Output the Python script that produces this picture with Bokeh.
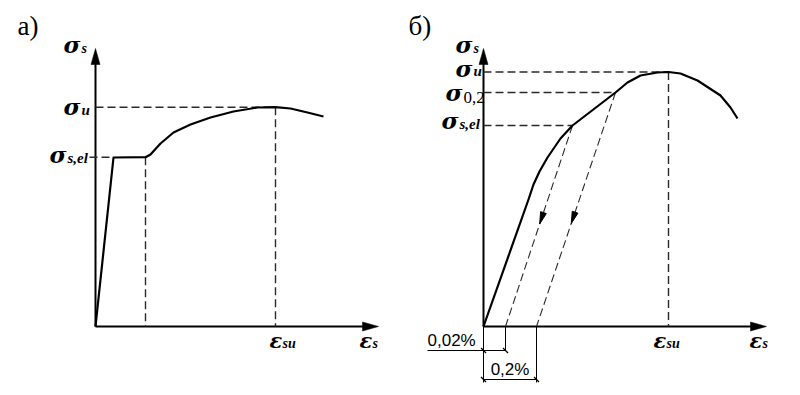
import numpy as np
from bokeh.plotting import figure
from bokeh.layouts import row
from bokeh.models import Range1d
from bokeh.core.properties import value
from bokeh.embed import file_html
from bokeh.resources import INLINE

# ---------------- data (schematic units) ----------------
# Panel а) : steel with a yield plateau
strain_a = [0, 18, 50, 55, 65, 78, 95, 115, 138, 162, 180, 195, 212, 228]
stress_a = [0, 169, 169.3, 172, 183, 194, 202, 209, 215, 219, 219.3, 218, 214, 210]
sigma_el_a = 169.3
sigma_u_a = 219.3
eps_plateau_a = 50
eps_su_a = 180

# Panel б) : steel without a yield plateau
strain_b = [0, 45, 50, 56, 64, 77, 89, 132, 144, 157, 174, 185, 197, 214, 237, 247, 254]
stress_b = [0, 127, 142, 155, 169, 188, 201, 234, 244, 251, 254, 254.5, 253, 246, 231, 219, 208]
eps_el_b = 89
sigma_el_b = 201
eps_02_b = 132
sigma_02_b = 234
eps_su_b = 185
sigma_u_b = 254.5
resid_002 = 22     # 0,02 %
resid_02 = 53      # 0,2 %

axis_len_x = 283
axis_len_y = 278

SERIF = "Liberation Serif"
GREEK = "DejaVu Serif"
SANS = "Liberation Sans"
DASH = "8 4"
DCOL = "#2a2a2a"


def make_fig(x0):
    p = figure(width=400, height=395, x_range=Range1d(-x0, 400 - x0),
               y_range=Range1d(-69, 326), output_backend="svg",
               toolbar_location=None, min_border=0,
               x_axis_type=None, y_axis_type=None)
    p.outline_line_color = None
    p.background_fill_color = "white"
    p.border_fill_color = "white"
    return p


def txt(p, x, y, s, size, style="bold italic", dx=0, dy=0, align="left", font=SERIF):
    # dy = desired baseline position below the anchor (screen px)
    p.text(x=[x], y=[y], text=[s], text_font=value(font), text_font_size=f"{size}px",
           text_font_style=style, x_offset=dx, y_offset=dy - 0.37 * size,
           text_align=align, text_baseline="alphabetic", text_color="black")


def sig(p, x, y, sub, dx, dy, sub_dy=None, sub_style="bold italic", sub_size=15,
        sym="σ", size=23, align="right"):
    txt(p, x, y, sym, size, dx=dx, dy=dy, align=align, font=GREEK)
    if sub_dy is None:
        sub_dy = dy
    sx = dx + 1 if align == "right" else dx + 13
    txt(p, x, y, sub, sub_size, sub_style, dx=sx, dy=sub_dy)


def axes(p):
    p.line([0, 0], [0, axis_len_y - 12], line_color="black", line_width=2)
    p.line([0, axis_len_x - 12], [0, 0], line_color="black", line_width=2)
    p.patch([-4.5, 0, 4.5], [axis_len_y - 16, axis_len_y, axis_len_y - 16],
            color="black", line_width=0.5)
    p.patch([axis_len_x - 16, axis_len_x, axis_len_x - 16], [-4.5, 0, 4.5],
            color="black", line_width=0.5)


def dashed(p, xs, ys, w=1.4):
    p.line(xs, ys, line_color=DCOL, line_width=w, line_dash=DASH)


def head(p, x1, y1, x2, y2, t):
    d = np.array([x2 - x1, y2 - y1], float)
    d /= np.hypot(*d)
    tip = np.array([x1 + t * (x2 - x1), y1 + t * (y2 - y1)])
    n = np.array([-d[1], d[0]])
    base = tip - d * 12
    pts = [tip, base + n * 3, base - n * 3]
    p.patch([q[0] for q in pts], [q[1] for q in pts], color="black")


# ---------------- panel а ----------------
pa = make_fig(95)
axes(pa)
dashed(pa, [0, eps_su_a], [sigma_u_a, sigma_u_a])
dashed(pa, [-6, strain_a[1]], [sigma_el_a, sigma_el_a])
dashed(pa, [eps_plateau_a, eps_plateau_a], [sigma_el_a, 0])
dashed(pa, [eps_su_a, eps_su_a], [sigma_u_a, 0])
pa.line(strain_a, stress_a, line_color="black", line_width=2.2, line_join="round")

txt(pa, 0, axis_len_y, "а)", 27, "normal", dx=-78, dy=-13)
sig(pa, 0, axis_len_y, "s", dx=-15, dy=5, sub_size=14)
sig(pa, 0, sigma_u_a, "u", dx=-15, dy=8)
sig(pa, 0, sigma_el_a, "s,el", dx=-29, dy=6)
sig(pa, eps_su_a, 0, "su", dx=-6, dy=22, sym="ε", size=21, align="left", sub_size=14)
sig(pa, axis_len_x, 0, "s", dx=-19, dy=22, sym="ε", size=21, align="left", sub_size=14)

# ---------------- panel б ----------------
pb = make_fig(83)
axes(pb)
dashed(pb, [0, eps_su_b], [sigma_u_b, sigma_u_b])
dashed(pb, [0, eps_02_b], [sigma_02_b, sigma_02_b])
dashed(pb, [0, eps_el_b], [sigma_el_b, sigma_el_b])
dashed(pb, [eps_su_b, eps_su_b], [sigma_u_b, 0])
dashed(pb, [eps_el_b, resid_002], [sigma_el_b, 0], w=1.1)
dashed(pb, [eps_02_b, resid_02], [sigma_02_b, 0], w=1.1)
head(pb, eps_el_b, sigma_el_b, resid_002, 0, 0.49)
head(pb, eps_02_b, sigma_02_b, resid_02, 0, 0.56)
pb.line(strain_b, stress_b, line_color="black", line_width=2.2, line_join="round")

# dimension lines
dim_y1, dim_y2 = -24, -53
pb.line([0, 0], [0, -56], line_color="black", line_width=1)
pb.line([resid_002, resid_002], [0, dim_y1], line_color="black", line_width=1)
pb.line([resid_02, resid_02], [0, -56], line_color="black", line_width=1)
pb.line([-56, resid_002], [dim_y1, dim_y1], line_color="black", line_width=1)
pb.line([0, resid_02], [dim_y2, dim_y2], line_color="black", line_width=1)
tx = [0, resid_002, 0, resid_02]
ty = [dim_y1, dim_y1, dim_y2, dim_y2]
pb.segment(x0=[x - 2.5 for x in tx], y0=[y + 2.5 for y in ty],
           x1=[x + 2.5 for x in tx], y1=[y - 2.5 for y in ty],
           line_color="black", line_width=1.3)

txt(pb, 0, 0, "0,02%", 17, "normal", dx=-56, dy=20, font=SANS)
txt(pb, resid_02 / 2, 0, "0,2%", 17, "normal", dy=49, align="center", font=SANS)

txt(pb, 0, axis_len_y, "б)", 27, "normal", dx=-75, dy=-13)
sig(pb, 0, axis_len_y, "s", dx=-11, dy=5, sub_size=14)
sig(pb, 0, sigma_u_b, "u", dx=-11, dy=5)
sig(pb, 0, sigma_02_b, "0,2", dx=-21, dy=9, sub_dy=11, sub_style="normal", sub_size=17)
sig(pb, 0, sigma_el_b, "s,el", dx=-25, dy=4)
sig(pb, eps_su_b, 0, "su", dx=-15, dy=22, sym="ε", size=21, align="left", sub_size=14)
sig(pb, axis_len_x, 0, "s", dx=-17, dy=22, sym="ε", size=21, align="left", sub_size=14)

layout = row(pa, pb, spacing=0)
open("out.html", "w").write(file_html(layout, INLINE))
